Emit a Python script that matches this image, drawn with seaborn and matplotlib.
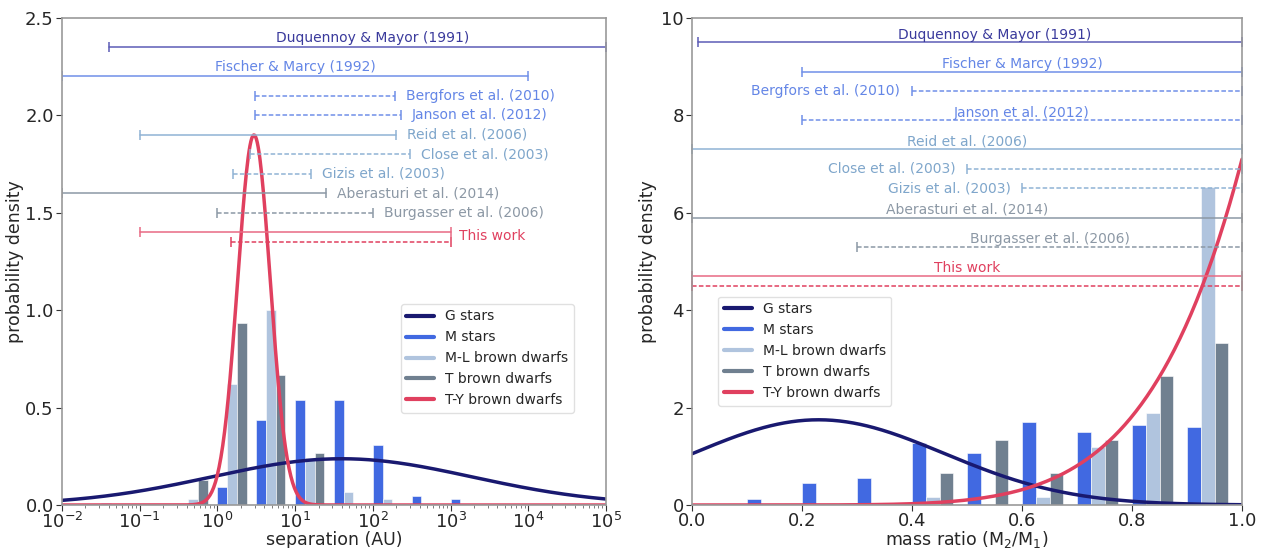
import numpy as np
import pandas as pd
import matplotlib
matplotlib.use("Agg")
import matplotlib.pyplot as plt
import seaborn as sns
from matplotlib.lines import Line2D

sns.set_style("ticks")
plt.rcParams['font.family'] = ['DejaVu Sans']

# ---------------- data ----------------
series_names = ["M stars", "M-L brown dwarfs", "T brown dwarfs"]

# separation histograms: left bin edge in log10(AU), bin width 0.5 dex
sep_bin_left = [-1.5, -0.5, 0.0, 0.5, 1.0, 1.5, 2.0, 2.5, 3.0]
sep_M = [0.008, 0.0, 0.092, 0.435, 0.538, 0.538, 0.306, 0.046, 0.031]
sep_ML = [0.0, 0.033, 0.62, 1.0, 0.24, 0.067, 0.033, 0.0, 0.0]
sep_T = [0.0, 0.128, 0.933, 0.666, 0.265, 0.0, 0.0, 0.0, 0.0]
sep_bin_width = 0.5

# mass-ratio histograms: left bin edge, bin width 0.1
q_bin_left = [0.1, 0.2, 0.3, 0.4, 0.5, 0.6, 0.7, 0.8, 0.9]
q_M = [0.12, 0.46, 0.55, 1.27, 1.06, 1.70, 1.50, 1.64, 1.60]
q_ML = [0.0, 0.0, 0.0, 0.16, 0.0, 0.16, 1.20, 1.88, 6.53]
q_T = [0.0, 0.0, 0.0, 0.66, 1.33, 0.66, 1.33, 2.65, 3.32]
q_bin_width = 0.1

# model parameters
G_sep_mu, G_sep_sigma = 1.6, 1.68        # log-normal in log10(a/AU)
TY_sep_mu, TY_sep_sigma = 0.47, 0.21
G_q_mu, G_q_sigma = 0.23, 0.228          # gaussian in q
TY_q_gamma = 6.1                         # power law (gamma+1) q^gamma

# literature ranges
range_labels = ["Duquennoy & Mayor (1991)", "Fischer & Marcy (1992)", "Bergfors et al. (2010)",
                "Janson et al. (2012)", "Reid et al. (2006)", "Close et al. (2003)",
                "Gizis et al. (2003)", "Aberasturi et al. (2014)", "Burgasser et al. (2006)",
                "This work", ""]
range_dashed = [False, False, True, True, False, True, True, False, True, False, True]
range_group = [0, 1, 1, 1, 2, 2, 2, 3, 3, 4, 4]

sep_lo = [0.04, 0.01, 3.0, 3.0, 0.1, 2.6, 1.6, 0.01, 1.0, 0.1, 1.5]
sep_hi = [1e5, 1e4, 190, 230, 200, 300, 16, 25, 100, 1000, 1000]
sep_y = [2.35, 2.2, 2.1, 2.0, 1.9, 1.8, 1.7, 1.6, 1.5, 1.4, 1.35]

q_lo = [0.01, 0.2, 0.4, 0.2, 0.0, 0.5, 0.6, 0.0, 0.3, 0.0, 0.0]
q_hi = [1.0] * 11
q_y = [9.5, 8.9, 8.5, 7.9, 7.3, 6.9, 6.5, 5.9, 5.3, 4.7, 4.5]

# ---------------- styles ----------------
c_G = "midnightblue"
c_M = "royalblue"
c_ML = "lightsteelblue"
c_T = "slategray"
c_TY = "#e0405f"
group_text = ["#3a3a9c", "#6486e6", "#7fa6cb", "#8c98a5", "#e0405f"]
group_line = ["#5c5cb6", "#7090e8", "#8fb3d4", "#8c98a5", "#e86a84"]
group_dash = ["#5c5cb6", "#7090e8", "#8fb3d4", "#8c98a5", "#e0405f"]

fig = plt.figure(figsize=(12.61, 5.48), dpi=100)
axL = fig.add_axes([62 / 1261, 43 / 548, 544 / 1261, 487 / 548])
axR = fig.add_axes([692 / 1261, 43 / 548, 550 / 1261, 487 / 548])


def draw_bars(ax, left, bw, vals, log):
    rows = []
    for name, v in zip(series_names, vals):
        for l, h in zip(left, v):
            if h <= 0:
                continue
            c = l + 0.375 * bw
            rows.append((10 ** c if log else c, h, name))
    df = pd.DataFrame(rows, columns=["x", "h", "s"])
    sns.barplot(data=df, x="x", y="h", hue="s", hue_order=series_names,
                palette=[c_M, c_ML, c_T], native_scale=True, width=0.75,
                errorbar=None, legend=False, ax=ax, saturation=1,
                edgecolor="white", linewidth=0.4,
                log_scale=(True, False) if log else None)


# ---------------- left panel ----------------
draw_bars(axL, sep_bin_left, sep_bin_width, [sep_M, sep_ML, sep_T], True)
a = np.logspace(-2, 5, 600)
la = np.log10(a)
gG = np.exp(-0.5 * ((la - G_sep_mu) / G_sep_sigma) ** 2) / (G_sep_sigma * np.sqrt(2 * np.pi))
gTY = np.exp(-0.5 * ((la - TY_sep_mu) / TY_sep_sigma) ** 2) / (TY_sep_sigma * np.sqrt(2 * np.pi))
sns.lineplot(x=a, y=gG, color=c_G, lw=2.5, ax=axL)
sns.lineplot(x=a, y=gTY, color=c_TY, lw=2.5, ax=axL)

for i, lab in enumerate(range_labels):
    g = range_group[i]
    col = group_dash[g] if range_dashed[i] else group_line[g]
    axL.plot([sep_lo[i], sep_hi[i]], [sep_y[i], sep_y[i]], ls="--" if range_dashed[i] else "-",
             color=col, lw=1.1, marker="|", ms=7, mew=1.1, dashes=(3, 1.5) if range_dashed[i] else (None, None))
for i, lab in enumerate(range_labels):
    if not lab:
        continue
    g = range_group[i]
    if i == 0:
        axL.annotate(lab, (10 ** 2.0, sep_y[i]), xytext=(0, 1.5), textcoords="offset points",
                     ha="center", va="bottom", color=group_text[g], fontsize=10)
    elif i == 1:
        axL.annotate(lab, (10 ** 1.0, sep_y[i]), xytext=(0, 1.5), textcoords="offset points",
                     ha="center", va="bottom", color=group_text[g], fontsize=10)
    elif lab == "This work":
        axL.annotate(lab, (sep_hi[i], 1.38), xytext=(6, 0), textcoords="offset points",
                     ha="left", va="center", color=group_text[g], fontsize=10)
    else:
        axL.annotate(lab, (sep_hi[i], sep_y[i]), xytext=(8, 0), textcoords="offset points",
                     ha="left", va="center", color=group_text[g], fontsize=10)

axL.set_xlim(1e-2, 1e5)
axL.set_ylim(0, 2.5)
axL.set_yticks([0, 0.5, 1.0, 1.5, 2.0, 2.5])
axL.set_xlabel("separation (AU)", fontsize=12.5, labelpad=-1)
axL.set_ylabel("probability density", fontsize=12.5, labelpad=1)

# ---------------- right panel ----------------
draw_bars(axR, q_bin_left, q_bin_width, [q_M, q_ML, q_T], False)
q = np.linspace(0, 1, 400)
qG = np.exp(-0.5 * ((q - G_q_mu) / G_q_sigma) ** 2) / (G_q_sigma * np.sqrt(2 * np.pi))
qTY = (TY_q_gamma + 1) * q ** TY_q_gamma
sns.lineplot(x=q, y=qG, color=c_G, lw=2.5, ax=axR)
sns.lineplot(x=q, y=qTY, color=c_TY, lw=2.5, ax=axR)

for i, lab in enumerate(range_labels):
    g = range_group[i]
    col = group_dash[g] if range_dashed[i] else group_line[g]
    axR.plot([q_lo[i], q_hi[i]], [q_y[i], q_y[i]], ls="--" if range_dashed[i] else "-",
             color=col, lw=1.1, marker="|", ms=7, mew=1.1, dashes=(3, 1.5) if range_dashed[i] else (None, None),
             clip_on=False)
right_text = {
    0: ("center", 0.55), 1: ("center", 0.6), 2: ("right", 0.378), 3: ("center", 0.6),
    4: ("center", 0.5), 5: ("right", 0.479), 6: ("right", 0.579), 7: ("center", 0.5),
    8: ("center", 0.65), 9: ("center", 0.5),
}
for i, (ha, xpos) in right_text.items():
    g = range_group[i]
    if ha == "center":
        axR.annotate(range_labels[i], (xpos, q_y[i]), xytext=(0, 0.5), textcoords="offset points",
                     ha="center", va="bottom", color=group_text[g], fontsize=10)
    else:
        axR.annotate(range_labels[i], (xpos, q_y[i]), ha="right", va="center",
                     color=group_text[g], fontsize=10)

axR.set_xlim(0, 1)
axR.set_ylim(0, 10)
axR.set_xticks([0, 0.2, 0.4, 0.6, 0.8, 1.0])
axR.set_yticks([0, 2, 4, 6, 8, 10])
axR.set_xlabel("mass ratio (M$_2$/M$_1$)", fontsize=12.5, labelpad=-1)
axR.set_ylabel("probability density", fontsize=12.5, labelpad=3)

# ---------------- common styling ----------------
handles = [Line2D([], [], color=c_G, lw=3), Line2D([], [], color=c_M, lw=3),
           Line2D([], [], color=c_ML, lw=3), Line2D([], [], color=c_T, lw=3),
           Line2D([], [], color=c_TY, lw=3)]
leg_labels = ["G stars", "M stars", "M-L brown dwarfs", "T brown dwarfs", "T-Y brown dwarfs"]
axL.legend(handles, leg_labels, loc="lower left", bbox_to_anchor=(0.61, 0.175), fontsize=10,
           frameon=True, edgecolor="0.85", fancybox=True)
axR.legend(handles, leg_labels, loc="lower left", bbox_to_anchor=(0.035, 0.19), fontsize=10,
           frameon=True, edgecolor="0.85", fancybox=True)

for ax in (axL, axR):
    for sp in ax.spines.values():
        sp.set_visible(True)
        sp.set_color("0.6")
        sp.set_linewidth(1.2)
    ax.tick_params(axis="x", which="major", labelsize=13, length=4, color="0.2", direction="out", pad=1)
    ax.tick_params(axis="y", which="major", labelsize=13, length=4, color="0.2", direction="out", pad=2)
    ax.tick_params(axis="both", which="minor", length=2, color="0.4")

fig.savefig("out.png", dpi=100)
